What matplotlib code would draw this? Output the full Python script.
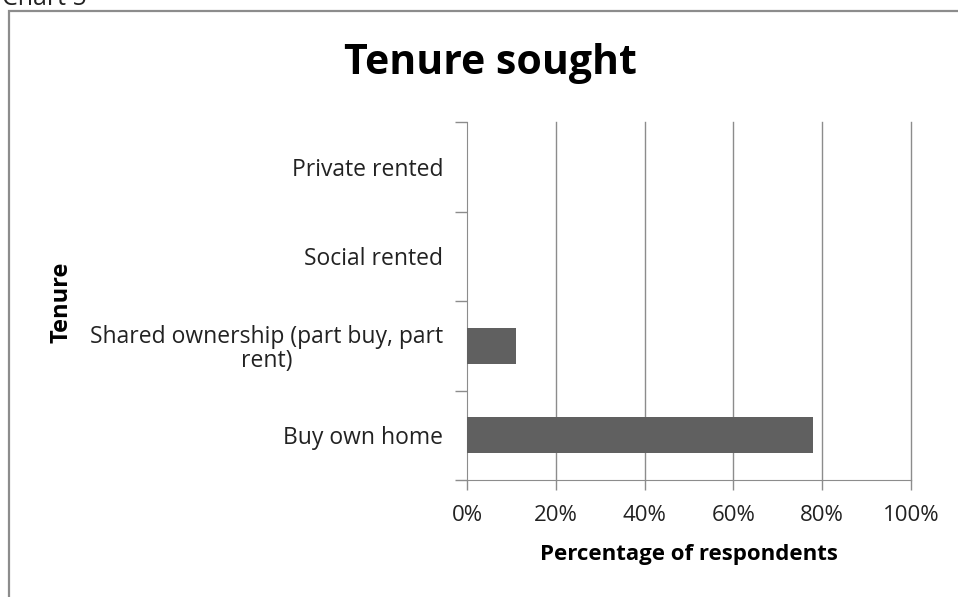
import matplotlib.pyplot as plt
from matplotlib.patches import Rectangle
from matplotlib.ticker import FixedLocator, PercentFormatter

categories = ["Buy own home", "Shared ownership (part buy, part\nrent)", "Social rented", "Private rented"]
values = [78, 11, 0, 0]
x_ticks = [0, 20, 40, 60, 80, 100]

plt.rcParams["font.family"] = ["Open Sans", "DejaVu Sans"]

W, H = 958, 597
fig = plt.figure(figsize=(W / 100, H / 100), dpi=100)

# outer chart frame (cut off at right and bottom like the source)
fig.patches.append(Rectangle((9 / W, -0.1), 1.2, 1 - 11 / H + 0.1, transform=fig.transFigure,
                             fill=False, edgecolor="#8c8c8c", linewidth=1.6))
fig.text(0.002, 1 - 5 / H, "Chart 5", fontsize=18, va="baseline", ha="left", color="#222222")

ax = fig.add_axes([467 / W, 1 - 480 / H, (911 - 467) / W, (480 - 122) / H])
pos = list(range(len(categories)))
ax.barh(pos, values, height=0.4, color="#606060", zorder=3)

ax.set_xlim(0, 100)
ax.set_ylim(-0.5, len(categories) - 0.5)
ax.set_xticks(x_ticks)
ax.xaxis.set_major_formatter(PercentFormatter(decimals=0))
ax.set_yticks(pos)
ax.set_yticklabels(categories, ha="right", multialignment="center", linespacing=1.0)
ax.yaxis.set_minor_locator(FixedLocator([p - 0.5 for p in pos] + [len(pos) - 0.5]))
ax.tick_params(axis="y", which="major", length=0, pad=17, labelsize=16.5, labelcolor="#222222")
ax.tick_params(axis="y", which="minor", length=9, width=1, color="#8c8c8c")
ax.tick_params(axis="x", length=7, width=1, color="#8c8c8c", pad=11, labelsize=16, labelcolor="#222222")

for x in x_ticks[1:]:
    ax.axvline(x, color="#8c8c8c", linewidth=1, zorder=0, clip_on=False)
for side in ["top", "right"]:
    ax.spines[side].set_visible(False)
for side in ["left", "bottom"]:
    ax.spines[side].set_color("#8c8c8c")

ax.set_xlabel("Percentage of respondents", fontsize=16, fontweight="bold", labelpad=13)
fig.text(62 / W, 1 - 302 / H, "Tenure", rotation=90, fontsize=17, fontweight="bold",
         ha="center", va="center")
fig.text(490 / W, 1 - 63 / H, "Tenure sought", fontsize=29.5, fontweight="bold",
         ha="center", va="center")

fig.savefig("out.png", dpi=100)
